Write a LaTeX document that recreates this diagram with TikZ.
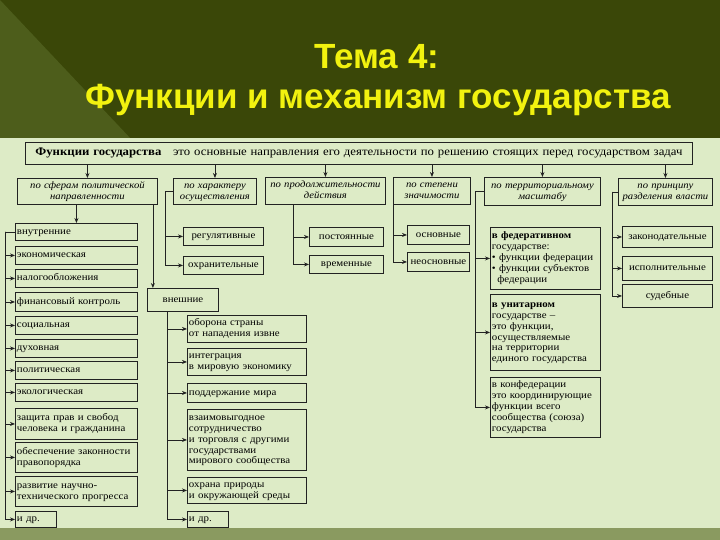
\documentclass[tikz,border=0pt]{standalone}
\usepackage{fontspec}
\setmainfont[FakeStretch=1.1]{Liberation Serif}
\newfontfamily\ttlfont{Liberation Sans}
\usetikzlibrary{arrows.meta,positioning,calc}
\definecolor{stInk}{HTML}{222222}
\definecolor{stPanel}{HTML}{DDEBC6}
\definecolor{stOlive}{HTML}{3A4708}
\definecolor{stOliveL}{HTML}{4D5D1B}
\definecolor{stBand}{HTML}{8A9A60}
\definecolor{stYellow}{HTML}{F2F20F}
\tikzset{
  fn/.style={draw=stInk, line width=0.9pt, anchor=north west, inner xsep=1.5pt, inner ysep=0pt, font=\fontsize{9.9}{10.9}\selectfont, align=left,
    execute at begin node=\strut, execute at end node=\strut},
  fnC/.style={fn, align=center},
  fnI/.style={fnC, font=\fontsize{9.7}{11}\selectfont\itshape},
  wh/.style 2 args={text width=#1, minimum height=#2},
  arr/.style={-{Stealth[length=5pt,width=4pt]}, line width=0.8pt, draw=stInk},
  bus/.style={line width=0.8pt, draw=stInk},
  ttl/.style={font=\ttlfont\bfseries\fontsize{35}{38}\selectfont, text=stYellow},
}
\begin{document}
\begin{tikzpicture}[x=1pt, y=-1pt]
  \useasboundingbox (0,0) rectangle (720,540);
  % slide background
  \fill[stOlive] (0,0) rectangle (720,140);
  \fill[stOliveL] (0,0) -- (132,140) -- (0,140) -- cycle;
  \fill[stPanel] (0,138) rectangle (720,528);
  \fill[stBand] (0,528) rectangle (720,540);

  \node[ttl] (t1) at (377,57) {Тема 4:};
  \node[ttl] (t2) at (378,100) {Функции и механизм государства};

  % heading and categories
  \node[fnC, wh={664pt}{22pt}, font=\fontsize{11.6}{12.5}\selectfont] (head) at (25,142) {\textbf{Функции государства}\quad это основные направления его деятельности по решению стоящих перед государством задач};
  \node[fnI, wh={137pt}{26pt}] (c1) at (17,178) {по сферам политической\\направленности};
  \node[fnI, wh={80pt}{26pt}] (c2) at (173,178) {по характеру\\осуществления};
  \node[fnI, wh={117pt}{27pt}] (c3) at (265,177) {по продолжительности\\действия};
  \node[fnI, wh={74pt}{27pt}] (c4) at (393,177) {по степени\\значимости};
  \node[fnI, wh={113pt}{28pt}] (c5) at (484,177) {по территориальному\\масштабу};
  \node[fnI, wh={91pt}{27pt}] (c6) at (618,178) {по принципу\\разделения власти};

  % political spheres: internal
  \node[fn, wh={119pt}{17pt}] (int) at (15,223) {внутренние};
  \node[fn, wh={119pt}{18pt}] (econ) at (15,246) {экономическая};
  \node[fn, wh={119pt}{18pt}] (tax) at (15,269) {налогообложения};
  \node[fn, wh={119pt}{19pt}] (fin) at (15,292) {финансовый контроль};
  \node[fn, wh={119pt}{18pt}] (soc) at (15,316) {социальная};
  \node[fn, wh={119pt}{18pt}] (spir) at (15,339) {духовная};
  \node[fn, wh={119pt}{18pt}] (pol) at (15,361) {политическая};
  \node[fn, wh={119pt}{18pt}] (eco) at (15,383) {экологическая};
  \node[fn, wh={119pt}{31pt}] (rights) at (15,408) {защита прав и свобод\\человека и гражданина};
  \node[fn, wh={119pt}{30pt}] (law) at (15,442) {обеспечение законности\\правопорядка};
  \node[fn, wh={119pt}{30pt}] (sci) at (15,476) {развитие научно-\\технического прогресса};
  \node[fn, wh={38pt}{16pt}] (oth1) at (15,511) {и др.};

  % political spheres: external
  \node[fnC, wh={68pt}{23pt}] (ext) at (147,288) {внешние};
  \node[fn, wh={116pt}{27pt}] (def) at (187,315) {оборона страны\\от нападения извне};
  \node[fn, wh={116pt}{27pt}] (integ) at (187,348) {интеграция\\в мировую экономику};
  \node[fn, wh={116pt}{19pt}] (peace) at (187,383) {поддержание мира};
  \node[fn, wh={116pt}{61pt}] (coop) at (187,409) {взаимовыгодное\\сотрудничество\\и торговля с другими\\государствами\\мирового сообщества};
  \node[fn, wh={116pt}{26pt}] (nat) at (187,477) {охрана природы\\и окружающей среды};
  \node[fn, wh={38pt}{16pt}] (oth2) at (187,511) {и др.};

  % character, duration, significance
  \node[fnC, wh={77pt}{18pt}] (reg) at (183,227) {регулятивные};
  \node[fnC, wh={77pt}{18pt}] (prot) at (183,256) {охранительные};
  \node[fnC, wh={71pt}{19pt}] (perm) at (309,227) {постоянные};
  \node[fnC, wh={71pt}{18pt}] (temp) at (309,255) {временные};
  \node[fnC, wh={59pt}{19pt}] (main) at (407,225) {основные};
  \node[fnC, wh={59pt}{19pt}] (sec) at (407,252) {неосновные};

  % territorial scale
  \node[fn, wh={107pt}{62pt}] (fed) at (490,227) {\textbf{в федеративном}\\государстве:\\• функции федерации\\• функции субъектов\\\hspace*{0.55em}федерации};
  \node[fn, wh={107pt}{76pt}] (unit) at (490,294) {\textbf{в унитарном}\\государстве –\\это функции,\\осуществляемые\\на территории\\единого государства};
  \node[fn, wh={107pt}{60pt}] (conf) at (490,377) {в конфедерации\\это координирующие\\функции всего\\сообщества (союза)\\государства};

  % separation of powers
  \node[fnC, wh={87pt}{21pt}] (leg) at (622,226) {законодательные};
  \node[fnC, wh={87pt}{24pt}] (exe) at (622,256) {исполнительные};
  \node[fnC, wh={87pt}{23pt}] (jud) at (622,284) {судебные};

  % connectors
  \foreach \c in {c1,c2,c3,c4,c5,c6} \draw[arr] (\c.north |- head.south) -- (\c.north);

  \draw[arr] (int.north |- c1.south) -- (int.north);
  \draw[arr] ([xshift=-5]c1.south east) -- ([xshift=-5]c1.south east |- ext.north);
  \draw[bus] (int.west) -- ++(-10,0) coordinate (b1);
  \foreach \n in {econ,tax,fin,soc,spir,pol,eco,rights,law,sci,oth1} \draw[arr] (b1) |- (\n.west);

  \coordinate (be) at ([xshift=20]ext.south west);
  \foreach \n in {def,integ,peace,coop,nat,oth2} \draw[arr] (be) |- (\n.west);

  \draw[bus] (c2.west) -- ++(-8,0) coordinate (b2);
  \foreach \n in {reg,prot} \draw[arr] (b2) |- (\n.west);

  \coordinate (b3) at ([xshift=28]c3.south west);
  \foreach \n in {perm,temp} \draw[arr] (b3) |- (\n.west);

  \foreach \n in {main,sec} \draw[arr] (c4.south west) |- (\n.west);

  \draw[bus] (c5.west) -- ++(-9,0) coordinate (b5);
  \foreach \n in {fed,unit,conf} \draw[arr] (b5) |- (\n.west);

  \draw[bus] (c6.west) -- ++(-6,0) coordinate (b6);
  \foreach \n in {leg,exe,jud} \draw[arr] (b6) |- (\n.west);
\end{tikzpicture}
\end{document}
